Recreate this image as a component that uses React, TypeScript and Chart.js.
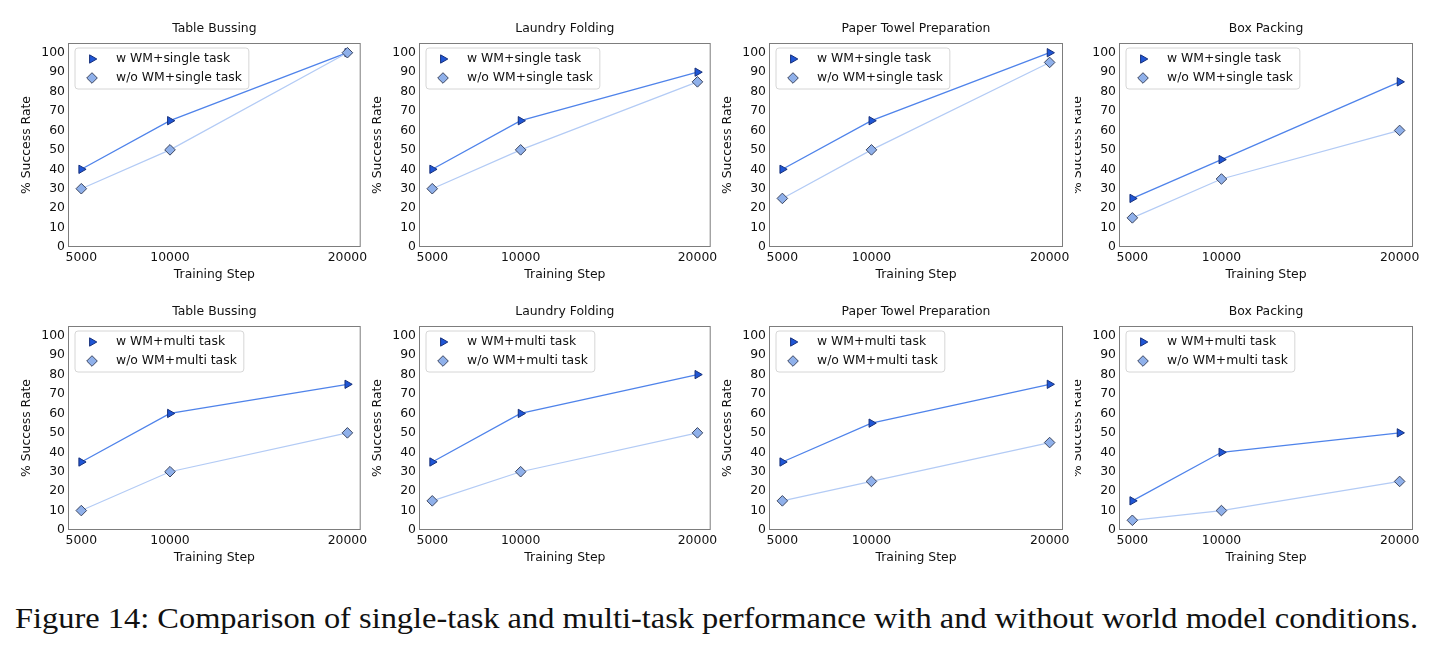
import React, { useEffect, useRef } from "react";
import { Chart, registerables } from "chart.js";

Chart.register(...registerables);

// ---------------- data ----------------
const steps = [5000, 10000, 20000];
const xTickValues = [5000, 10000, 20000];
const yTickValues = [0, 10, 20, 30, 40, 50, 60, 70, 80, 90, 100];
const tasks = ["Table Bussing", "Laundry Folding", "Paper Towel Preparation", "Box Packing"];

const singleWithWM = [
  [40, 65, 100],
  [40, 65, 90],
  [40, 65, 100],
  [25, 45, 85],
];
const singleWithoutWM = [
  [30, 50, 100],
  [30, 50, 85],
  [25, 50, 95],
  [15, 35, 60],
];
const multiWithWM = [
  [35, 60, 75],
  [35, 60, 80],
  [35, 55, 75],
  [15, 40, 50],
];
const multiWithoutWM = [
  [10, 30, 50],
  [15, 30, 50],
  [15, 25, 45],
  [5, 10, 25],
];

const singleLabels = ["w WM+single task", "w/o WM+single task"];
const multiLabels = ["w WM+multi task", "w/o WM+multi task"];

const xLabel = "Training Step";
const yLabel = "% Success Rate";
const caption =
  "Figure 14: Comparison of single-task and multi-task performance with and without world model conditions.";

// ---------------- layout & style ----------------
const COLS = [
  { cl: 0, cr: 367, al: 68, ar: 363 },
  { cl: 367, cr: 717, al: 419, ar: 713 },
  { cl: 717, cr: 1075, al: 769, ar: 1063 },
  { cl: 1075, cr: 1442, al: 1119, ar: 1413 },
];
const ROWS = [
  { ct: 0, cb: 290, at: 43, ab: 247 },
  { ct: 290, cb: 580, at: 326, ab: 530 },
];

const FONT = "DejaVu Sans";
const FS = 12.4;
const TEXT = "#111111";
const FRAME = "#7d7d7d";
const W_LINE = "#4f83ea";
const W_FILL = "#1f56d6";
const W_EDGE = "#17307a";
const WO_LINE = "#b3cbf5";
const WO_FILL = "#8fb0ea";
const WO_EDGE = "#3c4660";

function drawTriangle(ctx, x, y, r) {
  ctx.beginPath();
  for (let k = 0; k < 3; k++) {
    const ang = Math.PI / 2 + (k * 2 * Math.PI) / 3;
    const px = x + Math.sin(ang) * r;
    const py = y - Math.cos(ang) * r;
    if (k === 0) ctx.moveTo(px, py);
    else ctx.lineTo(px, py);
  }
  ctx.closePath();
  ctx.fillStyle = W_FILL;
  ctx.fill();
  ctx.strokeStyle = W_EDGE;
  ctx.lineWidth = 1;
  ctx.stroke();
}

function drawDiamond(ctx, x, y, r) {
  ctx.beginPath();
  ctx.moveTo(x - r, y);
  ctx.lineTo(x, y - r);
  ctx.lineTo(x + r, y);
  ctx.lineTo(x, y + r);
  ctx.closePath();
  ctx.fillStyle = WO_FILL;
  ctx.fill();
  ctx.strokeStyle = WO_EDGE;
  ctx.lineWidth = 1;
  ctx.stroke();
}

const panelPlugin = {
  id: "panelDecor",
  afterDatasetsDraw(chart, _args, opts) {
    const ctx = chart.ctx;
    const a = chart.chartArea;
    ctx.save();
    // frame
    ctx.strokeStyle = FRAME;
    ctx.lineWidth = 1;
    ctx.strokeRect(a.left + 0.5, a.top + 0.5, a.right - a.left - 1, a.bottom - a.top - 1);

    // legend
    ctx.font = `${FS}px "${FONT}"`;
    const tw = Math.max(...opts.labels.map((l) => ctx.measureText(l).width));
    const bx = a.left + 7;
    const by = a.top + 5;
    const bw = 41 + tw + 7;
    const bh = 41;
    const rr = 3;
    ctx.beginPath();
    ctx.moveTo(bx + rr, by);
    ctx.lineTo(bx + bw - rr, by);
    ctx.quadraticCurveTo(bx + bw, by, bx + bw, by + rr);
    ctx.lineTo(bx + bw, by + bh - rr);
    ctx.quadraticCurveTo(bx + bw, by + bh, bx + bw - rr, by + bh);
    ctx.lineTo(bx + rr, by + bh);
    ctx.quadraticCurveTo(bx, by + bh, bx, by + bh - rr);
    ctx.lineTo(bx, by + rr);
    ctx.quadraticCurveTo(bx, by, bx + rr, by);
    ctx.closePath();
    ctx.fillStyle = "rgba(255,255,255,0.85)";
    ctx.fill();
    ctx.strokeStyle = "#d6d6d6";
    ctx.lineWidth = 1;
    ctx.stroke();

    drawTriangle(ctx, bx + 17, by + 11, 4.8);
    drawDiamond(ctx, bx + 17, by + 30, 5.3);
    ctx.fillStyle = TEXT;
    ctx.textAlign = "left";
    ctx.textBaseline = "middle";
    ctx.fillText(opts.labels[0], bx + 41, by + 11);
    ctx.fillText(opts.labels[1], bx + 41, by + 30);
    ctx.restore();
  },
  afterDraw(chart, _args, opts) {
    const ctx = chart.ctx;
    const a = chart.chartArea;
    ctx.save();
    ctx.fillStyle = TEXT;
    ctx.font = `${FS}px "${FONT}"`;
    ctx.textAlign = "center";
    ctx.textBaseline = "middle";
    const cx = (a.left + a.right) / 2;
    ctx.fillText(opts.title, cx, a.top - 14);
    ctx.fillText(xLabel, cx, a.bottom + 28);
    ctx.translate(a.left - 41, (a.top + a.bottom) / 2);
    ctx.rotate(-Math.PI / 2);
    ctx.fillText(yLabel, 0, 0);
    ctx.restore();
  },
};

type Panel = {
  key: string;
  row: number;
  col: number;
  title: string;
  labels: string[];
  w: number[];
  wo: number[];
};

const panels: Panel[] = [];
for (let r = 0; r < 2; r++) {
  for (let c = 0; c < 4; c++) {
    panels.push({
      key: `${r}-${c}`,
      row: r,
      col: c,
      title: tasks[c],
      labels: r === 0 ? singleLabels : multiLabels,
      w: r === 0 ? singleWithWM[c] : multiWithWM[c],
      wo: r === 0 ? singleWithoutWM[c] : multiWithoutWM[c],
    });
  }
}

export default function App() {
  const canvasRefs = useRef<(HTMLCanvasElement | null)[]>([]);
  const capRef = useRef<HTMLDivElement | null>(null);

  useEffect(() => {
    const charts: Chart[] = [];
    panels.forEach((p, i) => {
      const canvas = canvasRefs.current[i];
      if (!canvas) return;
      const C = COLS[p.col];
      const R = ROWS[p.row];
      const tickFont = { family: FONT, size: FS };
      const chart = new Chart(canvas, {
        type: "line",
        data: {
          datasets: [
            {
              label: p.labels[0],
              data: steps.map((x, k) => ({ x, y: p.w[k] })),
              borderColor: W_LINE,
              borderWidth: 1.3,
              pointStyle: "triangle",
              rotation: 90,
              pointRadius: 4.8,
              pointBackgroundColor: W_FILL,
              pointBorderColor: W_EDGE,
              pointBorderWidth: 1,
              tension: 0,
              order: 2,
              clip: false,
            },
            {
              label: p.labels[1],
              data: steps.map((x, k) => ({ x, y: p.wo[k] })),
              borderColor: WO_LINE,
              borderWidth: 1.2,
              pointStyle: "rectRot",
              pointRadius: 5.3,
              pointBackgroundColor: WO_FILL,
              pointBorderColor: WO_EDGE,
              pointBorderWidth: 1,
              tension: 0,
              order: 1,
              clip: false,
            },
          ],
        },
        options: {
          animation: false,
          responsive: false,
          events: [],
          layout: {
            padding: { top: R.at - R.ct, right: C.cr - C.ar, left: 0, bottom: 0 },
          },
          plugins: {
            legend: { display: false },
            title: { display: false },
            tooltip: { enabled: false },
            panelDecor: { title: p.title, labels: p.labels },
          },
          scales: {
            x: {
              type: "linear",
              min: 4250,
              max: 20750,
              grid: { display: false, drawTicks: false },
              border: { display: false },
              afterBuildTicks: (s) => {
                s.ticks = xTickValues.map((v) => ({ value: v }));
              },
              afterFit: (s) => {
                s.height = R.cb - R.ab;
                s.paddingLeft = 0;
                s.paddingRight = 0;
              },
              ticks: {
                autoSkip: false,
                maxRotation: 0,
                minRotation: 0,
                padding: 3,
                color: TEXT,
                font: tickFont,
                callback: (v) => String(v),
              },
            },
            y: {
              type: "linear",
              min: 0,
              max: 105,
              grid: { display: false, drawTicks: false },
              border: { display: false },
              afterBuildTicks: (s) => {
                s.ticks = yTickValues.map((v) => ({ value: v }));
              },
              afterFit: (s) => {
                s.width = C.al - C.cl;
                s.paddingTop = 0;
                s.paddingBottom = 0;
              },
              ticks: {
                autoSkip: false,
                padding: 3,
                color: TEXT,
                font: tickFont,
                callback: (v) => String(v),
              },
            },
          },
        },
        plugins: [panelPlugin],
      } as any);
      charts.push(chart);
    });

    const cap = capRef.current;
    if (cap) {
      cap.style.transform = "none";
      const w = cap.getBoundingClientRect().width;
      if (w > 0) cap.style.transform = `scaleX(${1403 / w})`;
    }
    return () => charts.forEach((c) => c.destroy());
  }, []);

  return (
    <div
      style={{
        position: "absolute",
        left: 0,
        top: 0,
        width: 1442,
        height: 651,
        background: "#ffffff",
        overflow: "hidden",
      }}
    >
      {panels.map((p, i) => {
        const C = COLS[p.col];
        const R = ROWS[p.row];
        const w = C.cr - C.cl;
        const h = R.cb - R.ct;
        return (
          <canvas
            key={p.key}
            ref={(el) => {
              canvasRefs.current[i] = el;
            }}
            width={w}
            height={h}
            style={{ position: "absolute", left: C.cl, top: R.ct, width: w, height: h }}
          />
        );
      })}
      <div
        ref={capRef}
        style={{
          position: "absolute",
          left: 15,
          top: 603,
          fontFamily: '"Liberation Serif", serif',
          fontSize: 30,
          lineHeight: "30px",
          whiteSpace: "nowrap",
          color: "#111",
          transformOrigin: "0 0",
          display: "inline-block",
        }}
      >
        {caption}
      </div>
    </div>
  );
}
